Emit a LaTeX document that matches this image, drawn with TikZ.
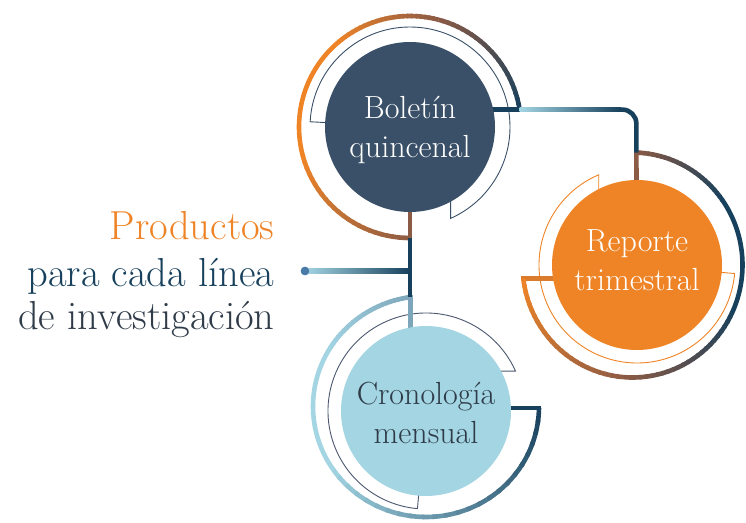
\documentclass[tikz,border=0pt]{standalone}
\usepackage{tikz}
\usetikzlibrary{calc}
\definecolor{navy}{HTML}{17405C}
\definecolor{slate}{HTML}{3A5068}
\definecolor{brn}{HTML}{8C5B45}
\definecolor{orng}{HTML}{EF8427}
\definecolor{lblue}{HTML}{A3D5E3}
\definecolor{steel}{HTML}{7DA6BA}
\definecolor{ink}{HTML}{2F3B48}
\definecolor{dotc}{HTML}{4A7BA8}
\definecolor{bandc}{HTML}{4C5870}
\tikzset{
  disc/.style={circle, inner sep=0pt, minimum size=170pt, align=center,
    font=\fontsize{32}{39}\selectfont},
  band/.style={fill=white, line width=0.9pt},
  ring/.style={line width=4.6pt},
  lead/.style={anchor=base east, font=\fontsize{40.5}{45}\selectfont}
}
% arc with a colour running from #6 to #7
\newcommand\garc[7]{%
  \foreach \k in {1,...,24}{
    \pgfmathsetmacro\aa{#4+(#5-#4)*max(\k-1.3,0)/24}
    \pgfmathsetmacro\ab{#4+(#5-#4)*\k/24}
    \pgfmathtruncatemacro\pc{100-100*(\k-0.5)/24}
    \draw[ring, draw=#6!\pc!#7] ($(#1)+(\aa:#2 and #3)$)
      arc[start angle=\aa, end angle=\ab, x radius=#2, y radius=#3];
  }}

\begin{document}
\begin{tikzpicture}[x=1pt,y=1pt]
  \useasboundingbox (0,0) rectangle (746,522);
  \coordinate (bc) at (410,395);
  \coordinate (rc) at (637,257);
  \coordinate (cc) at (426,111);
  \coordinate (ra) at (632.5,257);
  \coordinate (ca) at (426,115.5);

  % ends of the rings
  \coordinate (t0) at ($(bc)+(-90:111pt)$);
  \coordinate (t1) at ($(bc)+(9:111pt)$);
  \coordinate (r1) at ($(ra)+(88:110pt and 112.5pt)$);
  \coordinate (r2) at ($(ra)+(-173:110pt and 112.5pt)$);
  \coordinate (c1) at ($(ca)+(98:113pt and 110.5pt)$);
  \coordinate (c2) at ($(ca)+(359.2:113pt and 110.5pt)$);
  \coordinate (jn) at (410,251);
  \coordinate (bend) at (620,412.4);

  % thin bands
  \draw[band, draw=slate] ($(bc)+(177:100pt)$)
    arc[start angle=177, end angle=-66, radius=100pt] -- ++(0,40) -- (bc) -- cycle;
  \draw[band, draw=orng] (rc) -- ($(rc)+(113:98pt)+(0,-40)$) -- ++(0,40)
    arc[start angle=113, end angle=355, radius=98pt] -- cycle;
  \draw[band, draw=bandc] ($(cc)+(24:98pt)+(-30,0)$) -- ++(30,0)
    arc[start angle=24, end angle=265, radius=98pt] -- (cc) -- cycle;

  % stubs
  \draw[ring, brn] (bc) -- ($(t0)+(0,-2)$);
  \draw[ring, navy] (bc |- t1) -- ($(t1)+(2,0)$);
  \draw[ring, brn] (rc) -- ($(r1)+(0,2)$);
  \draw[ring, orng!80!brn] (rc |- r2) -- ($(r2)+(-2,0)$);
  \draw[ring, steel] (cc -| c1) -- ($(c1)+(0,2)$);
  \draw[ring, navy] (cc |- c2) -- ($(c2)+(2,0)$);

  \node[disc, fill=slate, text=white] (bol) at (bc) {};
  \node[disc, fill=orng, text=white] (rep) at (rc) {};
  \node[disc, fill=lblue, text=ink] (cro) at (cc) {};
  \node[disc, text=white, yshift=-2.5] (bolt) at (bc) {Boletín\\quincenal};
  \node[disc, text=white, yshift=5] (rept) at (rc) {Reporte\\trimestral};
  \node[disc, text=ink, yshift=-2.4] (crot) at (cc) {Cronología\\mensual};

  % rings
  \garc{bc}{111pt}{111pt}{270}{195}{brn}{orng}
  \draw[ring, orng] ($(bc)+(195.5:111pt)$) arc[start angle=195.5, end angle=129.5, radius=111pt];
  \garc{bc}{111pt}{111pt}{130}{75}{orng}{brn}
  \garc{bc}{111pt}{111pt}{75}{9}{brn}{navy}
  \garc{ra}{110pt}{112.5pt}{88}{35}{brn}{navy}
  \draw[ring, navy] ($(ra)+(35.5:110pt and 112.5pt)$) arc[start angle=35.5, end angle=-25.5, x radius=110pt, y radius=112.5pt];
  \garc{ra}{110pt}{112.5pt}{-25}{-95}{navy}{brn}
  \garc{ra}{110pt}{112.5pt}{-95}{-173}{brn}{orng}
  \garc{ca}{113pt}{110.5pt}{98}{150}{steel}{lblue}
  \draw[ring, lblue] ($(ca)+(149.5:113pt and 110.5pt)$) arc[start angle=149.5, end angle=215.5, x radius=113pt, y radius=110.5pt];
  \garc{ca}{113pt}{110.5pt}{215}{359.2}{lblue}{navy}

  % connectors
  \draw[ring, navy] (t0) -- (t0 |- c1);
  \shade[left color=lblue, right color=navy] ($(t1)+(0,-2.3)$) rectangle ($(bend)+(1,2.3)$);
  \draw[ring, navy, rounded corners=14pt] (bend) -| (r1);
  \node[circle, fill=dotc, inner sep=0pt, minimum size=8.5pt] (dot) at (305,251) {};
  \shade[left color=lblue, right color=navy] ($(dot)+(0,-2.3)$) rectangle ($(jn)+(0,2.3)$);
  \fill[dotc] (dot) circle (4.25pt);

  \node[lead, text=orng] (l1) at (278,282) {Productos};
  \node[lead, text=navy] (l2) at (278,235.3) {para cada línea};
  \node[lead, text=ink] (l3) at (278,192) {de investigación};
\end{tikzpicture}
\end{document}
